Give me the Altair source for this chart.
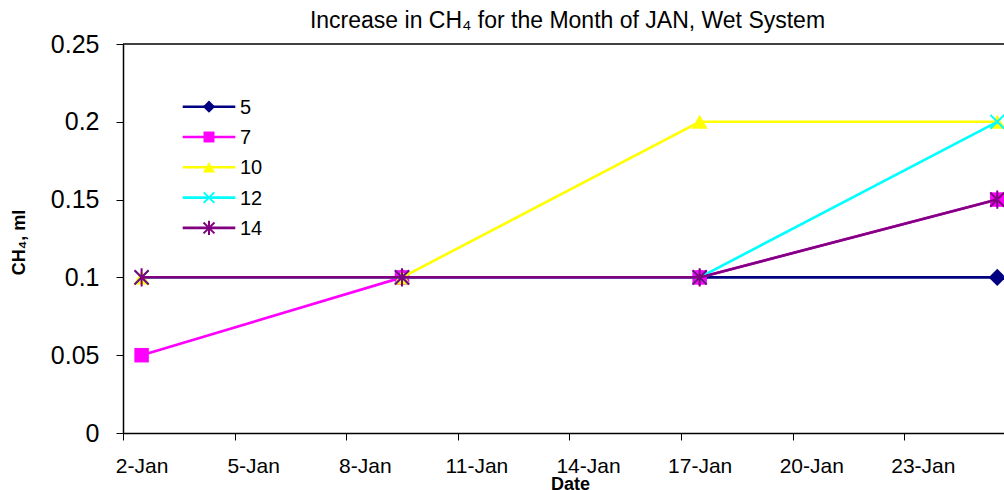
import altair as alt
import pandas as pd

# Sampling dates and CH4 readings (ml) for each series (None = no reading)
dates = ["2008-01-02T00:00", "2008-01-09T00:00", "2008-01-17T00:00", "2008-01-25T00:00"]
s5 = [None, 0.1, 0.1, 0.1]
s7 = [0.05, 0.1, 0.1, 0.15]
s10 = [0.1, 0.1, 0.2, 0.2]
s12 = [0.1, 0.1, 0.1, 0.2]
s14 = [0.1, 0.1, 0.1, 0.15]

names = ["5", "7", "10", "12", "14"]
values = [s5, s7, s10, s12, s14]
colors = ["#000080", "#FF00FF", "#FFFF00", "#00FFFF", "#800080"]
shapes = ["diamond", "square", "triangle-up",
          "M-1,-1L1,1M-1,1L1,-1",
          "M-1,-1L1,1M-1,1L1,-1M0,-1.3L0,1.3"]
filled = [True, True, True, False, False]
sizes = [300, 210, 260, 190, 200]
leg_sizes = [150, 120, 150, 110, 120]
tick_days = [2, 5, 8, 11, 14, 17, 20, 23]

FONT = "Liberation Sans"
W, H = 881, 389
DAY_PX = 37.2

rows = []
for n, vals in zip(names, values):
    for d, v in zip(dates, vals):
        if v is not None:
            rows.append({"series": n, "date": d, "ch4": v})
df = pd.DataFrame(rows)

x_scale = alt.Scale(
    domain=[alt.DateTime(year=2008, month=1, date=2),
            alt.DateTime(year=2008, month=1, date=25, hours=16, minutes=20)],
    nice=False,
)
y_scale = alt.Scale(domain=[0, 0.25], nice=False)

x_axis = alt.Axis(
    values=[alt.DateTime(year=2008, month=1, date=d) for d in tick_days],
    format="%-d-%b", labelOffset=DAY_PX / 2, labelFontSize=21, labelFont=FONT,
    labelColor="black", labelPadding=15, labelAngle=0, labelFlush=False,
    labelOverlap=False,
    tickSize=7, tickColor="black", domainColor="black", domainWidth=1.5,
    grid=False, title="Date", titleFont=FONT, titleFontSize=18,
    titleFontWeight="bold", titleColor="black",
    titleX=447, titleY=56, titleBaseline="alphabetic",
    titleAlign="center",
)
y_axis = alt.Axis(
    values=[0, 0.05, 0.1, 0.15, 0.2, 0.25], format=".2~f",
    labelFontSize=25, labelFont=FONT, labelColor="black", labelPadding=17,
    tickSize=7, tickColor="black", domainColor="black", domainWidth=1.5,
    grid=False, title="CH₄, ml", titleFont=FONT, titleFontSize=18,
    titleFontWeight="bold", titleColor="black",
    titleX=-104, titleY=198, titleAngle=-90, titleAlign="center",
    titleBaseline="middle",
)

base = alt.Chart(df).transform_calculate(
    t="toDate(datum.date) + 43200000"
)

layers = []
for i, n in enumerate(names):
    sub = base.transform_filter(alt.datum.series == n)
    enc = dict(
        x=alt.X("t:T", scale=x_scale, axis=x_axis),
        y=alt.Y("ch4:Q", scale=y_scale, axis=y_axis),
    )
    layers.append(sub.mark_line(color=colors[i], strokeWidth=2.6).encode(**enc))
    if filled[i]:
        pt = sub.mark_point(shape=shapes[i], filled=True, color=colors[i],
                            size=sizes[i], opacity=1)
    else:
        pt = sub.mark_point(shape=shapes[i], filled=False, color=colors[i],
                            size=sizes[i], strokeWidth=2, opacity=1)
    layers.append(pt.encode(**enc))

# Frame line along the top of the plot area
layers.append(
    alt.Chart(pd.DataFrame({"k": [0]})).mark_rule(
        color="black", strokeWidth=1.5
    ).encode(y=alt.datum(0.25))
)

# Legend: line sample, marker and label for each series
leg_y0, leg_dy = 62.7, 30.3
for i, n in enumerate(names):
    yy = leg_y0 + i * leg_dy
    ld = alt.Chart(pd.DataFrame({"name": [n]}))
    layers.append(ld.mark_rule(color=colors[i], strokeWidth=2.6).encode(
        x=alt.value(59.7), x2=alt.value(112.3), y=alt.value(yy)))
    if filled[i]:
        lp = ld.mark_point(shape=shapes[i], filled=True, color=colors[i],
                           size=leg_sizes[i], opacity=1)
    else:
        lp = ld.mark_point(shape=shapes[i], filled=False, color=colors[i],
                           size=leg_sizes[i], strokeWidth=2, opacity=1)
    layers.append(lp.encode(x=alt.value(86), y=alt.value(yy)))
    layers.append(ld.mark_text(align="left", baseline="middle", fontSize=20,
                               font=FONT, color="black").encode(
        x=alt.value(117), y=alt.value(yy + 1), text="name:N"))

chart = alt.layer(*layers).properties(
    width=W, height=H,
    title=alt.TitleParams(
        "Increase in CH₄ for the Month of JAN, Wet System",
        font=FONT, fontSize=23, fontWeight="normal", color="black",
        anchor="middle", offset=12, dx=4, dy=13,
    ),
    autosize=alt.AutoSizeParams(type="none"),
    padding={"left": 123, "top": 44, "right": 0, "bottom": 57},
    background="white",
).configure_view(stroke=None)

chart.save("out.html", embed_options={"renderer": "svg", "actions": False})
